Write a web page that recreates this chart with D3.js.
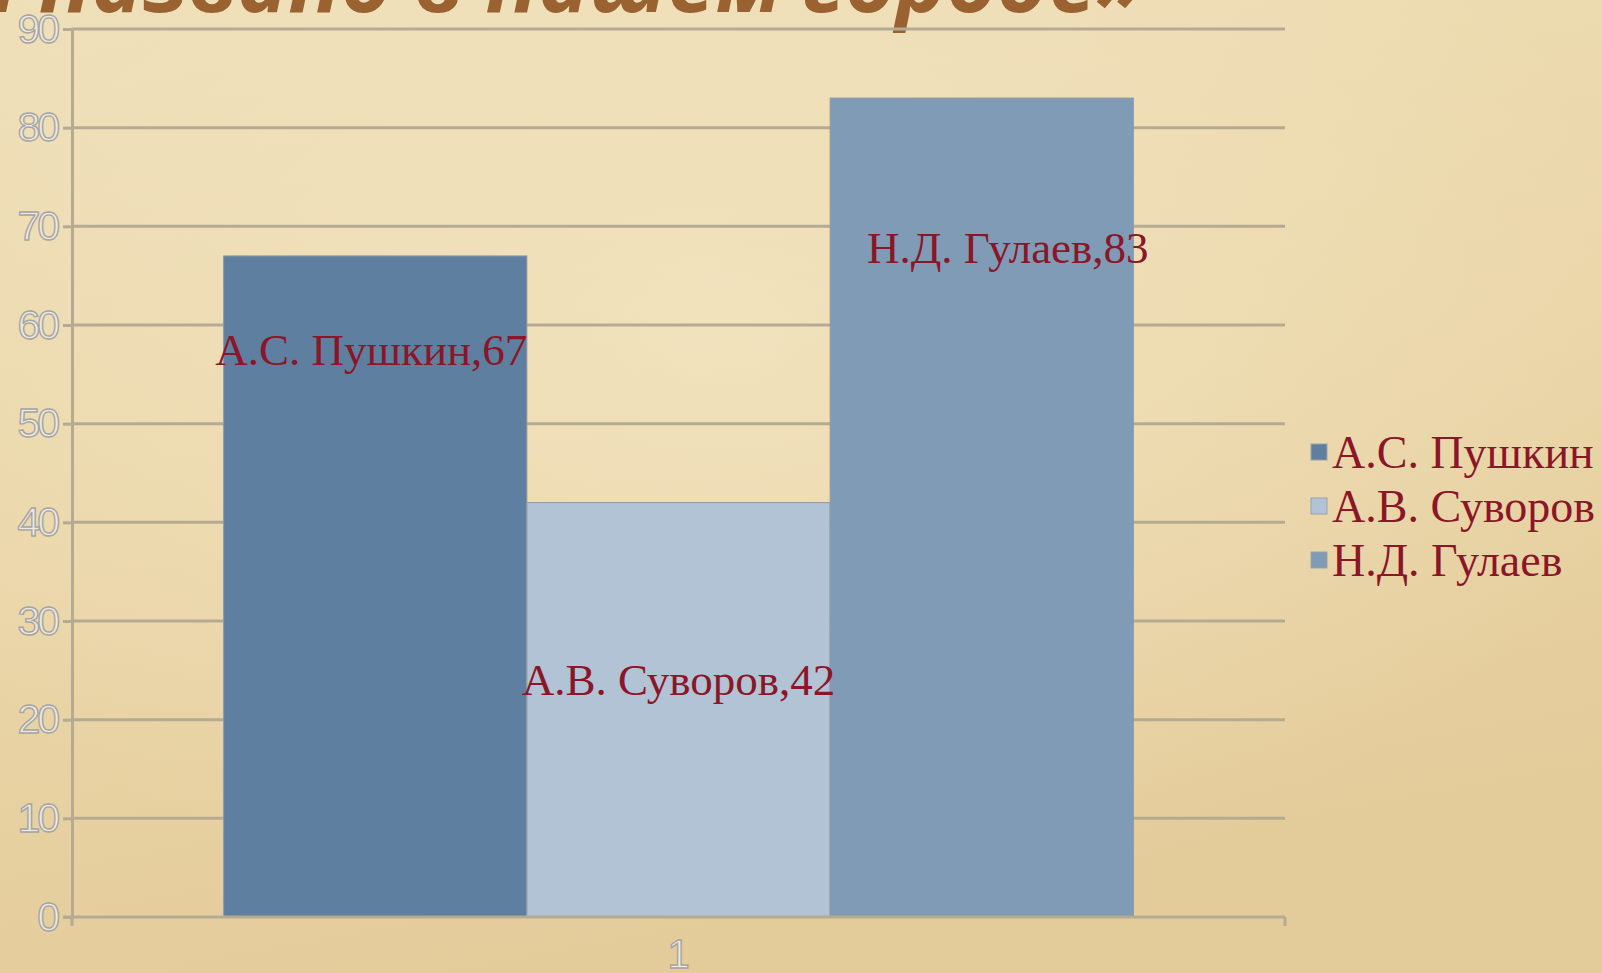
<!DOCTYPE html>
<html>
<head>
<meta charset="utf-8">
<script src="https://cdn.jsdelivr.net/npm/d3@7"></script>
<style>
  body { margin: 0; overflow: hidden; }
</style>
</head>
<body>
<div id="chart"></div>
<script>
// chart data
var categories = ["1"];
var series = ["А.С. Пушкин", "А.В. Суворов", "Н.Д. Гулаев"];
var values = [67, 42, 83];
var colors = ["#5f7fa0", "#b2c3d5", "#7f9bb5"];
var yTicks = [0, 10, 20, 30, 40, 50, 60, 70, 80, 90];
var title = "«Чьим именем названо в нашем городе»";

// label nudges (px) - labels were moved by hand in the original
var labelDx = [-4, 0, 26];
var labelDy = [93, 177, 149];

var W = 1602, H = 973;
var margin = { left: 72, right: 317, top: 29, bottom: 56 };

var svg = d3.select("#chart").append("svg")
    .attr("width", W)
    .attr("height", H);

// parchment background
var defs = svg.append("defs");
var bg = defs.append("linearGradient").attr("id", "bg")
    .attr("x1", 0).attr("y1", 0).attr("x2", 0.3).attr("y2", 1);
bg.append("stop").attr("offset", "0%").attr("stop-color", "#efdfb8");
bg.append("stop").attr("offset", "55%").attr("stop-color", "#ead6a8");
bg.append("stop").attr("offset", "100%").attr("stop-color", "#e4cb9a");
var glow = defs.append("radialGradient").attr("id", "glow")
    .attr("cx", 0.45).attr("cy", 0.35).attr("r", 0.6);
glow.append("stop").attr("offset", "0%").attr("stop-color", "#f5e8c8").attr("stop-opacity", 0.6);
glow.append("stop").attr("offset", "100%").attr("stop-color", "#f5e8c8").attr("stop-opacity", 0);

svg.append("rect").attr("width", W).attr("height", H).attr("fill", "url(#bg)");
svg.append("rect").attr("width", W).attr("height", H).attr("fill", "url(#glow)");

// title, cut off at the top of the frame
svg.append("text")
    .attr("x", 1145)
    .attr("y", 12)
    .attr("text-anchor", "end")
    .style("font-family", "'Open Sans', 'Noto Sans', sans-serif")
    .style("font-weight", "bold")
    .style("font-style", "italic")
    .style("font-size", "86px")
    .style("fill", "#9a6230")
    .text(title);

var x0 = d3.scaleBand()
    .domain(categories)
    .range([margin.left, W - margin.right]);

var barW = x0.bandwidth() / (series.length + 1);
var x1 = d3.scaleBand()
    .domain(series)
    .range([barW / 2, x0.bandwidth() - barW / 2]);

var y = d3.scaleLinear()
    .domain([0, 90])
    .range([H - margin.bottom, margin.top]);

// gridlines
svg.append("g")
  .selectAll("line")
  .data(yTicks.slice(1))
  .enter()
  .append("line")
    .attr("x1", margin.left)
    .attr("x2", W - margin.right)
    .attr("y1", function(d) { return y(d); })
    .attr("y2", function(d) { return y(d); })
    .attr("stroke", "#b5ab92")
    .attr("stroke-width", 3);

// y axis
var yAxis = svg.append("g")
    .attr("transform", "translate(" + margin.left + ",0)")
    .call(d3.axisLeft(y).tickValues(yTicks).tickSize(9).tickPadding(6));
yAxis.select(".domain").attr("stroke", "#b5ab92").attr("stroke-width", 3);
yAxis.selectAll(".tick line").attr("stroke", "#b5ab92").attr("stroke-width", 3);
yAxis.selectAll("text")
    .style("font-family", "'Liberation Sans', sans-serif")
    .style("font-size", "41px")
    .style("letter-spacing", "-3px")
    .attr("fill", "#efe9dc")
    .attr("stroke", "#a5a5a5")
    .attr("stroke-width", 1.4);

// bars
var g = svg.append("g")
    .attr("transform", "translate(" + x0(categories[0]) + ",0)");

g.selectAll("rect")
  .data(values)
  .enter()
  .append("rect")
    .attr("x", function(d, i) { return x1(series[i]); })
    .attr("y", function(d) { return y(d); })
    .attr("width", x1.bandwidth())
    .attr("height", function(d) { return y(0) - y(d); })
    .attr("fill", function(d, i) { return colors[i]; })
    .attr("stroke", "#8e99a3")
    .attr("stroke-width", 1);

// x axis
var xAxis = svg.append("g")
    .attr("transform", "translate(0," + y(0) + ")");
xAxis.append("line")
    .attr("x1", margin.left - 9)
    .attr("x2", W - margin.right)
    .attr("stroke", "#b5ab92")
    .attr("stroke-width", 3);
xAxis.selectAll(".edge")
  .data(x0.range())
  .enter()
  .append("line")
    .attr("x1", function(d) { return d; })
    .attr("x2", function(d) { return d; })
    .attr("y1", 0)
    .attr("y2", 9)
    .attr("stroke", "#b5ab92")
    .attr("stroke-width", 3);
xAxis.selectAll("text")
  .data(categories)
  .enter()
  .append("text")
    .attr("x", function(d) { return x0(d) + x0.bandwidth() / 2; })
    .attr("y", 51)
    .attr("text-anchor", "middle")
    .style("font-family", "'Liberation Sans', sans-serif")
    .style("font-size", "40px")
    .attr("fill", "#efe9dc")
    .attr("stroke", "#a5a5a5")
    .attr("stroke-width", 1.4)
    .text(function(d) { return d; });

// data labels
g.selectAll(".lbl")
  .data(values)
  .enter()
  .append("text")
    .attr("class", "lbl")
    .attr("x", function(d, i) { return x1(series[i]) + x1.bandwidth() / 2 + labelDx[i]; })
    .attr("y", function(d, i) { return y(d) + labelDy[i]; })
    .attr("dy", "0.35em")
    .attr("text-anchor", "middle")
    .style("font-family", "'Liberation Serif', serif")
    .style("font-size", "45px")
    .style("fill", "#8a1628")
    .text(function(d, i) { return series[i] + "," + d; });

// legend
var legend = svg.append("g")
    .attr("transform", "translate(1311,452)");
var item = legend.selectAll("g")
  .data(series)
  .enter()
  .append("g")
    .attr("transform", function(d, i) { return "translate(0," + (i * 54) + ")"; });
item.append("rect")
    .attr("x", 0)
    .attr("y", -8)
    .attr("width", 16)
    .attr("height", 16)
    .attr("fill", function(d, i) { return colors[i]; })
    .attr("stroke", "#9aa3ab")
    .attr("stroke-width", 1);
item.append("text")
    .attr("x", 21)
    .attr("dy", "0.35em")
    .style("font-family", "'Liberation Serif', serif")
    .style("font-size", "46px")
    .style("fill", "#8a1628")
    .text(function(d) { return d; });
</script>
</body>
</html>
